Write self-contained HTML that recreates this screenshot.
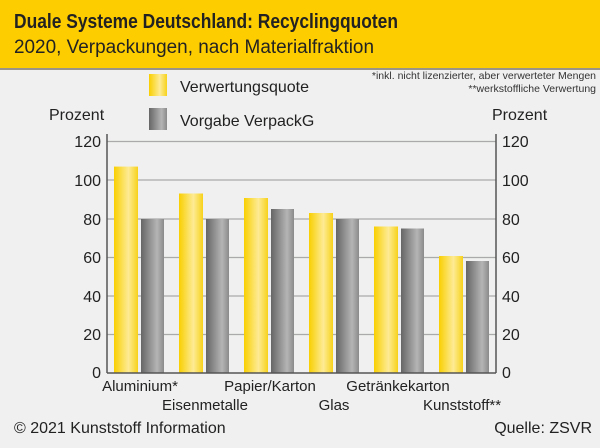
<!DOCTYPE html>
<html><head><meta charset="utf-8"><style>
body{margin:0;width:600px;height:443px;overflow:hidden;background:#eff0ef;font-family:"Liberation Sans",sans-serif;}
</style></head><body>
<svg width="600" height="443" xmlns="http://www.w3.org/2000/svg" font-family="Liberation Sans, sans-serif">
<defs>
<linearGradient id="y" x1="0" x2="1"><stop offset="0" stop-color="#f9cf00"/><stop offset="0.6" stop-color="#fdeb95"/><stop offset="1" stop-color="#f7d21a"/></linearGradient>
<linearGradient id="g" x1="0" x2="1"><stop offset="0" stop-color="#666"/><stop offset="0.7" stop-color="#b5b5b5"/><stop offset="1" stop-color="#8a8a8a"/></linearGradient>
</defs>
<rect x="0" y="0" width="600" height="68" fill="#fecd00"/>
<rect x="0" y="68" width="600" height="2" fill="#9a9488"/>
<text x="14" y="28" font-size="20" font-weight="bold" fill="#222" textLength="384" lengthAdjust="spacingAndGlyphs">Duale Systeme Deutschland: Recyclingquoten</text>
<text x="14" y="53" font-size="19" fill="#222" textLength="360" lengthAdjust="spacingAndGlyphs">2020, Verpackungen, nach Materialfraktion</text>
<rect x="149" y="74" width="18" height="22" fill="url(#y)"/>
<rect x="149" y="108" width="18" height="22" fill="url(#g)"/>
<text x="180" y="92" font-size="16" fill="#222">Verwertungsquote</text>
<text x="180" y="126" font-size="16" fill="#222">Vorgabe VerpackG</text>
<text x="596" y="79" font-size="10.5" fill="#333" text-anchor="end">*inkl. nicht lizenzierter, aber verwerteter Mengen</text>
<text x="596" y="92" font-size="10.5" fill="#333" text-anchor="end">**werkstoffliche Verwertung</text>
<text x="49" y="120" font-size="16" fill="#222">Prozent</text>
<text x="492" y="120" font-size="16" fill="#222">Prozent</text>
<g stroke="#aaa" stroke-width="1.2">
<line x1="107" x2="496" y1="141.5" y2="141.5"/><line x1="107" x2="496" y1="180" y2="180"/><line x1="107" x2="496" y1="219" y2="219"/><line x1="107" x2="496" y1="257.5" y2="257.5"/><line x1="107" x2="496" y1="296" y2="296"/><line x1="107" x2="496" y1="334.5" y2="334.5"/>
</g>
<g font-size="16" fill="#222">
<g text-anchor="end"><text x="101" y="147">120</text><text x="101" y="186">100</text><text x="101" y="225">80</text><text x="101" y="263">60</text><text x="101" y="302">40</text><text x="101" y="340">20</text><text x="101" y="378">0</text></g>
<g><text x="502" y="147">120</text><text x="502" y="186">100</text><text x="502" y="225">80</text><text x="502" y="263">60</text><text x="502" y="302">40</text><text x="502" y="340">20</text><text x="502" y="378">0</text></g>
</g>
<g>
<rect x="114" y="166.6" width="24" height="206.4" fill="url(#y)"/><rect x="141" y="219" width="23" height="154" fill="url(#g)"/>
<rect x="179" y="193.5" width="24" height="179.5" fill="url(#y)"/><rect x="206" y="219" width="23" height="154" fill="url(#g)"/>
<rect x="244" y="198" width="24" height="175" fill="url(#y)"/><rect x="271" y="209" width="23" height="164" fill="url(#g)"/>
<rect x="309" y="213" width="24" height="160" fill="url(#y)"/><rect x="336" y="219" width="23" height="154" fill="url(#g)"/>
<rect x="374" y="226.5" width="24" height="146.5" fill="url(#y)"/><rect x="401" y="228.5" width="23" height="144.5" fill="url(#g)"/>
<rect x="439" y="256" width="24" height="117" fill="url(#y)"/><rect x="466" y="261" width="23" height="112" fill="url(#g)"/>
</g>
<line x1="107" x2="496" y1="373" y2="373" stroke="#555" stroke-width="1.5"/>
<line x1="107" x2="107" y1="134" y2="373" stroke="#555" stroke-width="1.5"/>
<line x1="496" x2="496" y1="134" y2="373" stroke="#555" stroke-width="1.5"/>
<g font-size="15" fill="#222" text-anchor="middle">
<text x="140" y="391">Aluminium*</text><text x="205" y="410">Eisenmetalle</text>
<text x="270" y="391">Papier/Karton</text><text x="334" y="410">Glas</text>
<text x="398" y="391">Getränkekarton</text><text x="462" y="410">Kunststoff**</text>
</g>
<text x="14" y="433" font-size="16" fill="#222">© 2021 Kunststoff Information</text>
<text x="592" y="433" font-size="16" fill="#222" text-anchor="end">Quelle: ZSVR</text>
</svg>
</body></html>
